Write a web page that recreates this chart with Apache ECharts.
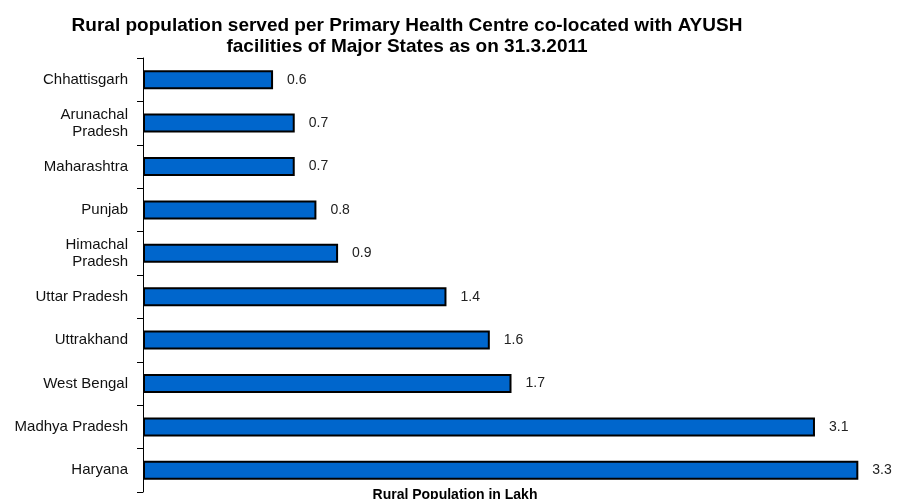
<!DOCTYPE html>
<html>
<head>
    <meta charset="utf-8">
    <style>
        html, body { margin: 0; padding: 0; background: #fff; }
        #chart { width: 898px; height: 499px; }
    </style>
    <script src="https://cdn.jsdelivr.net/npm/echarts@6/dist/echarts.min.js"></script>
</head>
<body>
    <div id="chart"></div>
    <script type="text/javascript">
        // states, top to bottom as in the picture
        var states = ['Chhattisgarh', 'Arunachal\nPradesh', 'Maharashtra', 'Punjab', 'Himachal\nPradesh',
            'Uttar Pradesh', 'Uttrakhand', 'West Bengal', 'Madhya Pradesh', 'Haryana'];
        // rural population served per PHC (lakh)
        var served = [0.6, 0.7, 0.7, 0.8, 0.9, 1.4, 1.6, 1.7, 3.1, 3.3];

        var titleText = 'Rural population served per Primary Health Centre co-located with AYUSH\nfacilities of Major States as on 31.3.2011';
        var axisName = 'Rural Population in Lakh';

        var myChart = echarts.init(document.getElementById('chart'));
        myChart.setOption({
            animation: false,
            backgroundColor: '#fff',
            title: [{
                text: titleText,
                left: 402,
                top: 10,
                textAlign: 'center',
                textStyle: {
                    fontFamily: '"Liberation Sans", Arial, sans-serif',
                    fontWeight: 'bold',
                    fontSize: 19,
                    lineHeight: 21,
                    color: '#000'
                }
            }, {
                text: axisName,
                left: 450,
                top: 483,
                textAlign: 'center',
                textStyle: {
                    fontFamily: '"Liberation Sans", Arial, sans-serif',
                    fontWeight: 'bold',
                    fontSize: 14,
                    color: '#000'
                }
            }],
            grid: {
                left: 143,
                right: 18,
                top: 58,
                bottom: 7,
                containLabel: false
            },
            xAxis: {
                type: 'value',
                min: 0,
                max: 3.4,
                show: false
            },
            yAxis: {
                type: 'category',
                data: states,
                inverse: true,
                axisLine: { show: true, lineStyle: { color: '#000', width: 1 } },
                axisTick: { show: true, length: 6, lineStyle: { color: '#000' } },
                axisLabel: {
                    margin: 15,
                    fontFamily: '"Liberation Sans", Arial, sans-serif',
                    fontSize: 15,
                    lineHeight: 17,
                    color: '#111'
                }
            },
            series: [{
                type: 'bar',
                data: served,
                barWidth: 19,
                itemStyle: {
                    color: '#0066cc',
                    borderColor: '#000',
                    borderWidth: 2
                },
                label: {
                    show: true,
                    position: 'right',
                    distance: 14,
                    fontFamily: '"Liberation Sans", Arial, sans-serif',
                    fontSize: 14,
                    color: '#222'
                }
            }]
        });
    </script>
</body>
</html>
